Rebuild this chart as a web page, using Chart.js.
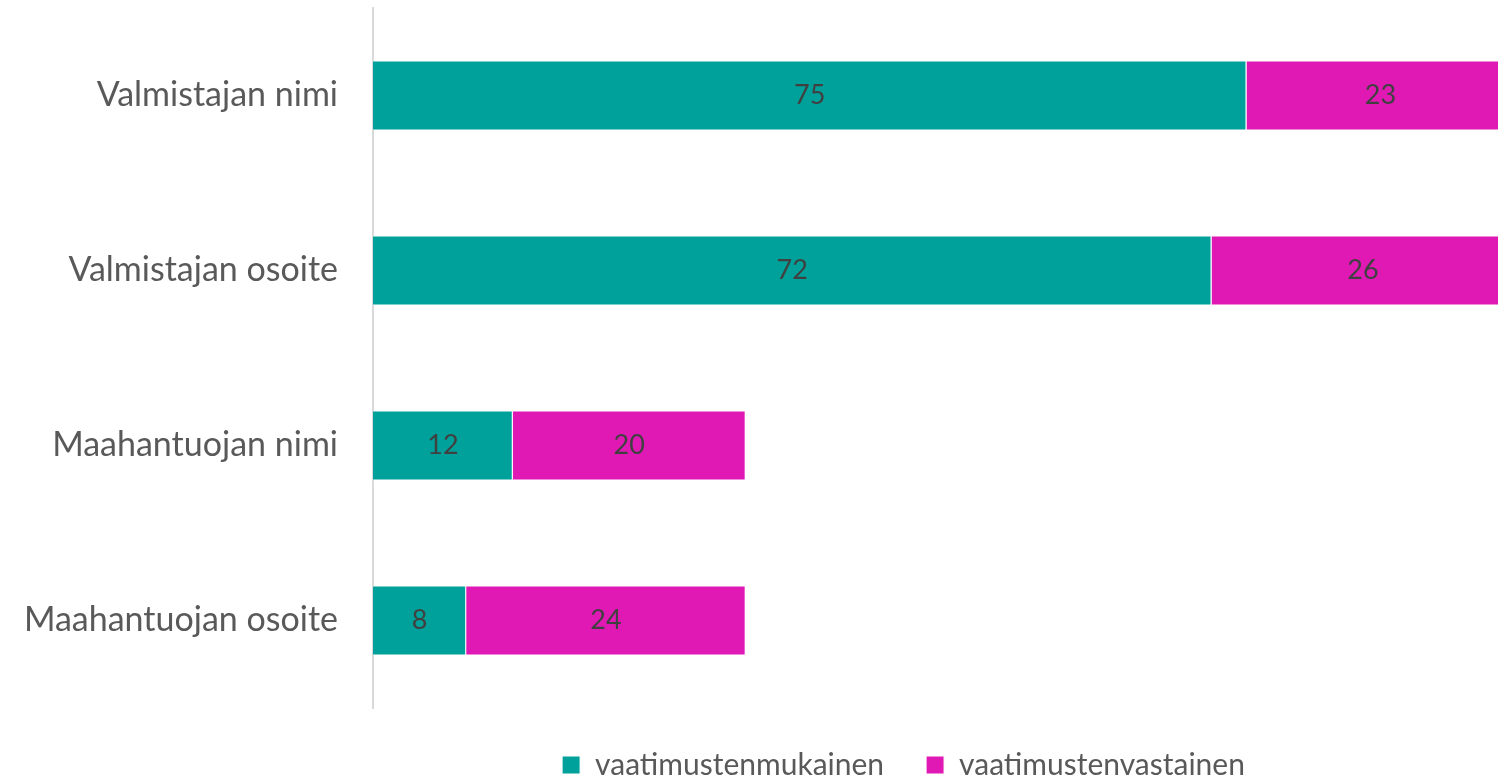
<!DOCTYPE html>
<html lang="fi">
<head>
  <meta charset="UTF-8">
  <title>Valmistajan ja maahantuojan tiedot</title>
  <script src="https://cdn.jsdelivr.net/npm/chart.js"></script>
  <style>
    html, body { margin: 0; padding: 0; background: #ffffff; overflow: hidden; }
    canvas { display: block; }
  </style>
</head>
<body>
<canvas id="kaavio" width="1498" height="777"></canvas>

<script>
const kategoriat = ["Valmistajan nimi", "Valmistajan osoite", "Maahantuojan nimi", "Maahantuojan osoite"];
const mukainen = [75, 72, 12, 8];
const vastainen = [23, 26, 20, 24];
const sarjaNimet = ["vaatimustenmukainen", "vaatimustenvastainen"];
const xMax = 96.6;

const fontti = "Lato, 'Open Sans', sans-serif";

// arvot palkkien keskelle
const arvoPlugin = {
  id: "arvot",
  afterDatasetsDraw(chart) {
    const ctx = chart.ctx;
    ctx.save();
    ctx.font = "27px " + fontti;
    ctx.fillStyle = "#404040";
    ctx.textAlign = "center";
    ctx.textBaseline = "middle";
    chart.data.datasets.forEach((ds, i) => {
      chart.getDatasetMeta(i).data.forEach((bar, j) => {
        const p = bar.getCenterPoint();
        ctx.fillText(String(ds.data[j]), p.x, p.y);
      });
    });
    ctx.restore();
  }
};

// selite hieman vasemmalle
const selitePlugin = {
  id: "selitesiirto",
  afterLayout(chart) {
    if (chart.legend) {
      chart.legend.left -= 32;
      chart.legend.right -= 32;
    }
  }
};

new Chart(document.getElementById("kaavio"), {
  type: "bar",
  data: {
    labels: kategoriat,
    datasets: [
      { label: sarjaNimet[0], data: mukainen, backgroundColor: "#00a19a", borderColor: "#ffffff", borderWidth: 1, categoryPercentage: 0.4, barPercentage: 1 },
      { label: sarjaNimet[1], data: vastainen, backgroundColor: "#e019b4", borderColor: "#ffffff", borderWidth: 1, categoryPercentage: 0.4, barPercentage: 1 }
    ]
  },
  options: {
    indexAxis: "y",
    responsive: false,
    animation: false,
    layout: { padding: { top: 8, left: 0, right: 0, bottom: -13 } },
    plugins: {
      legend: {
        position: "bottom",
        fullSize: false,
        labels: {
          font: { family: fontti, size: 30 },
          color: "#595959",
          boxWidth: 18,
          boxHeight: 18,
          padding: 42
        }
      },
      tooltip: { enabled: false }
    },
    scales: {
      x: {
        stacked: true,
        min: 0,
        max: xMax,
        display: false
      },
      y: {
        stacked: true,
        grid: { display: false },
        border: { display: true, color: "#d9d9d9", width: 2 },
        ticks: { font: { family: fontti, size: 34 }, color: "#595959", padding: 27 },
        afterFit(scale) {
          scale.width = 373;
          scale.paddingTop = 0;
          scale.paddingBottom = 0;
        }
      }
    }
  },
  plugins: [arvoPlugin, selitePlugin]
});
</script>
</body>
</html>
